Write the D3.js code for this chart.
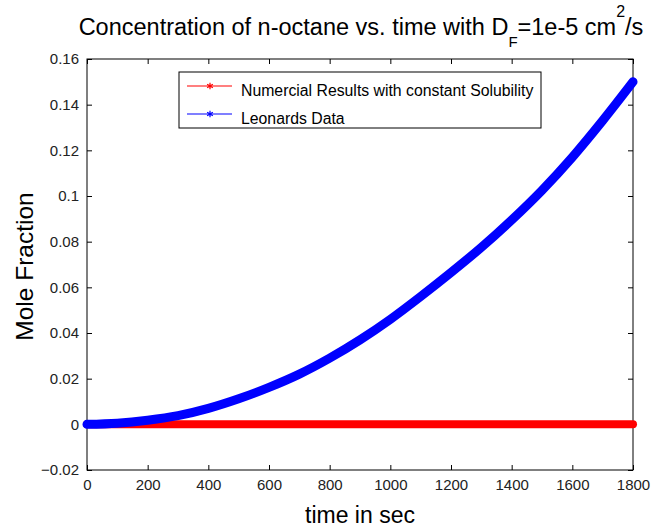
<!DOCTYPE html>
<head>
    <meta charset="utf-8">
    <style>
        body { margin: 0; background: #fff; }
        svg text { font-family: "Liberation Sans", Arial, sans-serif; fill: #000; }
        .tick-label { font-size: 15px; fill: #222; }
        .x-label { font-size: 23px; }
        .y-label { font-size: 24.5px; }
        .title { font-size: 23.5px; }
        .legend-text { font-size: 15.8px; }
        .frame { fill: none; stroke: #000; stroke-width: 1px; }
    </style>
</head>

<body>
    <script src="https://d3js.org/d3.v7.min.js"></script>

    <script>
        // data
        var times = [0, 100, 200, 300, 400, 500, 600, 700, 800, 900,
                     1000, 1100, 1200, 1300, 1400, 1500, 1600, 1700, 1800];
        var numerical = [0, 0, 0, 0, 0, 0, 0, 0, 0, 0,
                         0, 0, 0, 0, 0, 0, 0, 0, 0];
        var leonards = [0, 0.0005, 0.0018, 0.0038, 0.0070, 0.0112, 0.0162, 0.022, 0.029, 0.037,
                        0.046, 0.056, 0.0665, 0.0775, 0.0895, 0.1025, 0.117, 0.133, 0.150];
        var xTicks = [0, 200, 400, 600, 800, 1000, 1200, 1400, 1600, 1800];
        var yTicks = [-0.02, 0, 0.02, 0.04, 0.06, 0.08, 0.1, 0.12, 0.14, 0.16];
        var seriesNames = ["Numercial Results with constant Solubility", "Leonards Data"];
        var seriesColors = ["#ff0000", "#0000ff"];

        var margin = {top: 59, right: 19, bottom: 61, left: 87},
            width = 652 - margin.left - margin.right,
            height = 531 - margin.top - margin.bottom;

        var x = d3.scaleLinear().domain([0, 1800]).range([0, width]);
        var y = d3.scaleLinear().domain([-0.02, 0.16]).range([height, 0]);

        var svg = d3.select("body").append("svg")
            .attr("width", 652)
            .attr("height", 531);

        var g = svg.append("g")
            .attr("transform", "translate(" + margin.left + "," + margin.top + ")");

        // white plot box
        g.append("rect")
            .attr("width", width)
            .attr("height", height)
            .attr("fill", "#fff");

        var tickLen = 5;

        // ticks on all four sides, pointing inward
        g.append("g")
            .attr("transform", "translate(0," + height + ")")
            .call(d3.axisBottom(x).tickValues(xTicks).tickSize(-tickLen).tickPadding(9)
                .tickFormat(d3.format("d")))
            .call(function(a) { a.select(".domain").remove(); });
        g.append("g")
            .call(d3.axisTop(x).tickValues(xTicks).tickSize(-tickLen).tickFormat(""))
            .call(function(a) { a.select(".domain").remove(); });
        g.append("g")
            .call(d3.axisLeft(y).tickValues(yTicks).tickSize(-tickLen).tickPadding(8)
                .tickFormat(function(d) { return d === 0 ? "0" : d3.format("")(+d.toFixed(2)); }))
            .call(function(a) { a.select(".domain").remove(); });
        g.append("g")
            .attr("transform", "translate(" + width + ",0)")
            .call(d3.axisRight(y).tickValues(yTicks).tickSize(-tickLen).tickFormat(""))
            .call(function(a) { a.select(".domain").remove(); });

        g.selectAll(".tick line").attr("stroke", "#000");
        g.selectAll(".tick text")
            .attr("class", "tick-label")
            .attr("font-size", null)
            .attr("font-family", null);

        // frame
        g.append("rect")
            .attr("class", "frame")
            .attr("width", width)
            .attr("height", height);

        var line = d3.line()
            .curve(d3.curveMonotoneX)
            .x(function(d, i) { return x(times[i]); })
            .y(function(d) { return y(d); });

        // numerical results (red), underneath
        g.append("path")
            .datum(numerical)
            .attr("fill", "none")
            .attr("stroke", seriesColors[0])
            .attr("stroke-width", 8)
            .attr("stroke-linecap", "round")
            .attr("d", line);

        // Leonards data (blue), on top
        g.append("path")
            .datum(leonards)
            .attr("fill", "none")
            .attr("stroke", seriesColors[1])
            .attr("stroke-width", 9)
            .attr("stroke-linecap", "round")
            .attr("d", line);

        // legend
        var legend = svg.append("g").attr("transform", "translate(179,72)");
        legend.append("rect")
            .attr("width", 362)
            .attr("height", 56)
            .attr("fill", "#fff")
            .attr("stroke", "#000")
            .attr("stroke-width", 1);

        var star = d3.symbol().type(d3.symbolAsterisk || d3.symbolCross).size(30);
        seriesNames.forEach(function(name, i) {
            var ly = 14 + i * 28;
            legend.append("line")
                .attr("x1", 8).attr("x2", 53)
                .attr("y1", ly).attr("y2", ly)
                .attr("stroke", seriesColors[i])
                .attr("stroke-width", 1.2);
            legend.append("path")
                .attr("transform", "translate(31," + ly + ")")
                .attr("d", star())
                .attr("fill", "none")
                .attr("stroke", seriesColors[i])
                .attr("stroke-width", 1.2);
            legend.append("text")
                .attr("class", "legend-text")
                .attr("x", 62)
                .attr("y", ly + 10)
                .text(name);
        });

        // axis labels
        svg.append("text")
            .attr("class", "x-label")
            .attr("x", margin.left + width / 2)
            .attr("y", 523)
            .style("text-anchor", "middle")
            .text("time in sec");

        svg.append("text")
            .attr("class", "y-label")
            .attr("transform", "translate(33," + (margin.top + height / 2 + 2) + ") rotate(-90)")
            .style("text-anchor", "middle")
            .text("Mole Fraction");

        // title with subscript and superscript
        var title = svg.append("text")
            .attr("class", "title")
            .attr("x", margin.left + width / 2 + 1)
            .attr("y", 35)
            .style("text-anchor", "middle");
        title.append("tspan").text("Concentration of n-octane vs. time with D");
        title.append("tspan").attr("dy", 12).attr("font-size", "15px").text("F");
        title.append("tspan").attr("dy", -12).text("=1e-5 cm");
        title.append("tspan").attr("dy", -18).attr("font-size", "16px").text("2");
        title.append("tspan").attr("dy", 18).text("/s");
    </script>
</body>
